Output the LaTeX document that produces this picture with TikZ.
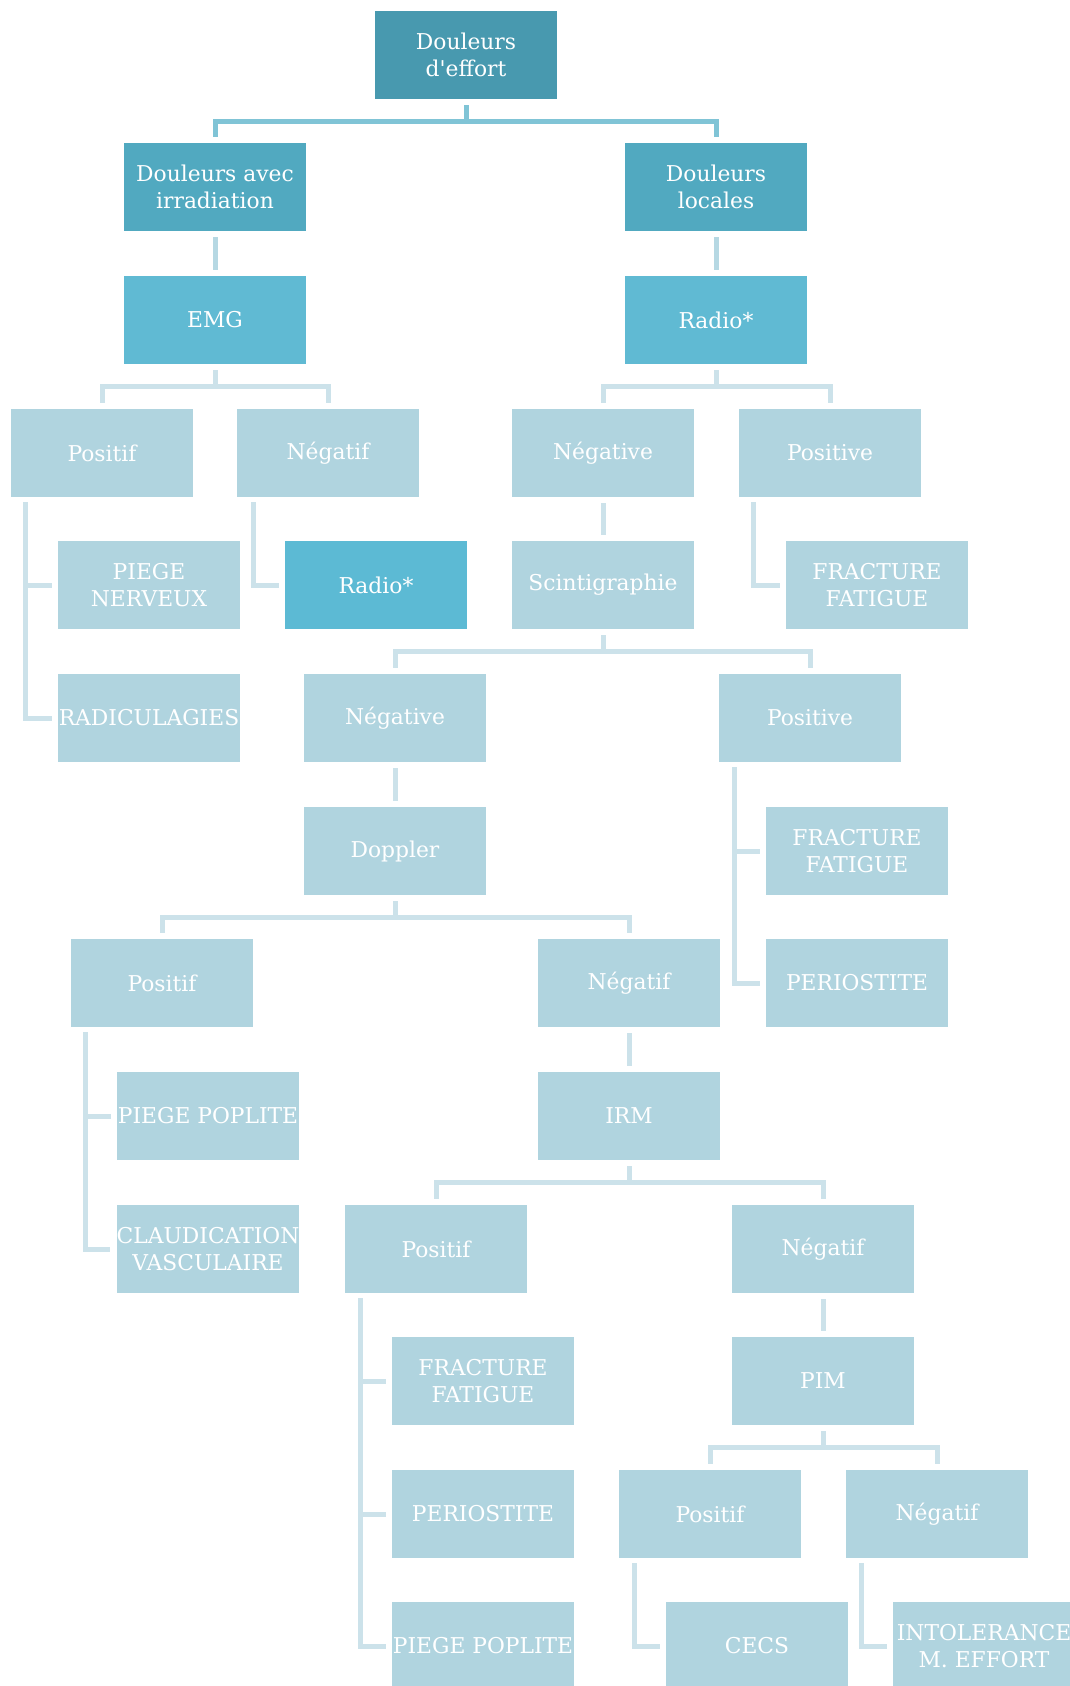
\documentclass[tikz,border=0pt]{standalone}
\usepackage{fontspec}
\setmainfont{DejaVu Serif}
\usetikzlibrary{calc}
\newcommand{\straightapos}{\XeTeXglyph\XeTeXcharglyph"0027\relax}
\definecolor{cRoot}{HTML}{4899AF}
\definecolor{cLone}{HTML}{51A9C0}
\definecolor{cLtwo}{HTML}{60BAD3}
\definecolor{cBlue}{HTML}{5CBAD4}
\definecolor{cLight}{HTML}{B0D4DF}
\definecolor{lnA}{HTML}{80C4D6}
\definecolor{lnB}{HTML}{B6D8E3}
\definecolor{lnC}{HTML}{CCE2EA}
\tikzset{
  box/.style={rectangle, minimum width=182pt, minimum height=88pt, inner sep=0pt,
    text=white, align=center, font=\fontsize{21.8}{27}\selectfont},
  boxroot/.style={box, fill=cRoot},
  boxone/.style={box, fill=cLone},
  boxtwo/.style={box, fill=cLtwo},
  boxblue/.style={box, fill=cBlue},
  boxlight/.style={box, fill=cLight},
  lineA/.style={draw=lnA, line width=5pt},
  lineB/.style={draw=lnB, line width=5pt},
  lineC/.style={draw=lnC, line width=5pt},
}
\begin{document}
\begin{tikzpicture}[x=1pt, y=-1pt]
\useasboundingbox (0,0) rectangle (1070,1686);
% rows: tops 11,143,276,409,541,674,807,939,1072,1205,1337,1470,1602 ; centre = top+44
\node[boxroot]  (root)   at (466,55)  {Douleurs\\d\straightapos effort};
\node[boxone]   (irr)    at (215,187) {Douleurs avec\\irradiation};
\node[boxone]   (loc)    at (716,187) {Douleurs\\locales};
\node[boxtwo]   (emg)    at (215,320) {EMG};
\node[boxtwo]   (radioA) at (716,320) {Radio*};
\node[boxlight] (posA)   at (102,453) {Positif};
\node[boxlight] (negA)   at (328,453) {Négatif};
\node[boxlight] (negvA)  at (603,453) {Négative};
\node[boxlight] (posvA)  at (830,453) {Positive};
\node[boxlight] (piegeN) at (149,585) {PIEGE\\NERVEUX};
\node[boxblue]  (radioB) at (376,585) {Radio*};
\node[boxlight] (scinti) at (603,585) {Scintigraphie};
\node[boxlight] (fracA)  at (877,585) {FRACTURE\\FATIGUE};
\node[boxlight] (radic)  at (149,718) {RADICULAGIES};
\node[boxlight] (negvB)  at (395,718) {Négative};
\node[boxlight] (posvB)  at (810,718) {Positive};
\node[boxlight] (doppler) at (395,851) {Doppler};
\node[boxlight] (fracB)  at (857,851) {FRACTURE\\FATIGUE};
\node[boxlight] (posD)   at (162,983) {Positif};
\node[boxlight] (negD)   at (629,983) {Négatif};
\node[boxlight] (perioA) at (857,983) {PERIOSTITE};
\node[boxlight] (piegePA) at (208,1116) {PIEGE POPLITE};
\node[boxlight] (irm)    at (629,1116) {IRM};
\node[boxlight] (claud)  at (208,1249) {CLAUDICATION\\VASCULAIRE};
\node[boxlight] (posI)   at (436,1249) {Positif};
\node[boxlight] (negI)   at (823,1249) {Négatif};
\node[boxlight] (fracC)  at (483,1381) {FRACTURE\\FATIGUE};
\node[boxlight] (pim)    at (823,1381) {PIM};
\node[boxlight] (perioB) at (483,1514) {PERIOSTITE};
\node[boxlight] (posP)   at (710,1514) {Positif};
\node[boxlight] (negP)   at (937,1514) {Négatif};
\node[boxlight] (piegePB) at (483,1646) {PIEGE POPLITE};
\node[boxlight] (cecs)   at (757,1646) {CECS};
\node[boxlight] (intol)  at (984,1646) {INTOLERANCE\\M. EFFORT};

% forks
\draw[lineA] ($(root.south)+(0,6)$) -- ($(root.south)+(0,22)$);
\draw[lineA] ($(irr.north)+(0,-6)$) |- ($(root.south)+(0,22)$) -| ($(loc.north)+(0,-6)$);
\draw[lineB] ($(irr.south)+(0,6)$) -- ($(emg.north)+(0,-6)$);
\draw[lineB] ($(loc.south)+(0,6)$) -- ($(radioA.north)+(0,-6)$);
\draw[lineC] ($(emg.south)+(0,6)$) -- ($(emg.south)+(0,22)$);
\draw[lineC] ($(posA.north)+(0,-6)$) |- ($(emg.south)+(0,22)$) -| ($(negA.north)+(0,-6)$);
\draw[lineC] ($(radioA.south)+(0,6)$) -- ($(radioA.south)+(0,22)$);
\draw[lineC] ($(negvA.north)+(0,-6)$) |- ($(radioA.south)+(0,22)$) -| ($(posvA.north)+(0,-6)$);
\draw[lineC] ($(negvA.south)+(0,6)$) -- ($(scinti.north)+(0,-6)$);
\draw[lineC] ($(scinti.south)+(0,6)$) -- ($(scinti.south)+(0,22)$);
\draw[lineC] ($(negvB.north)+(0,-6)$) |- ($(scinti.south)+(0,22)$) -| ($(posvB.north)+(0,-6)$);
\draw[lineC] ($(negvB.south)+(0,6)$) -- ($(doppler.north)+(0,-6)$);
\draw[lineC] ($(doppler.south)+(0,6)$) -- ($(doppler.south)+(0,22)$);
\draw[lineC] ($(posD.north)+(0,-6)$) |- ($(doppler.south)+(0,22)$) -| ($(negD.north)+(0,-6)$);
\draw[lineC] ($(negD.south)+(0,6)$) -- ($(irm.north)+(0,-6)$);
\draw[lineC] ($(irm.south)+(0,6)$) -- ($(irm.south)+(0,22)$);
\draw[lineC] ($(posI.north)+(0,-6)$) |- ($(irm.south)+(0,22)$) -| ($(negI.north)+(0,-6)$);
\draw[lineC] ($(negI.south)+(0,6)$) -- ($(pim.north)+(0,-6)$);
\draw[lineC] ($(pim.south)+(0,6)$) -- ($(pim.south)+(0,22)$);
\draw[lineC] ($(posP.north)+(0,-6)$) |- ($(pim.south)+(0,22)$) -| ($(negP.north)+(0,-6)$);

% elbows
\draw[lineC] ($(posA.south west)+(15,5)$) |- ($(radic.west)+(-6,0)$);
\draw[lineC] ($(posA.south west)+(15,5)$) |- ($(piegeN.west)+(-6,0)$);
\draw[lineC] ($(negA.south west)+(17,5)$) |- ($(radioB.west)+(-6,0)$);
\draw[lineC] ($(posvA.south west)+(15,5)$) |- ($(fracA.west)+(-6,0)$);
\draw[lineC] ($(posvB.south west)+(16,5)$) |- ($(perioA.west)+(-6,0)$);
\draw[lineC] ($(posvB.south west)+(16,5)$) |- ($(fracB.west)+(-6,0)$);
\draw[lineC] ($(posD.south west)+(15,5)$) |- ($(claud.west)+(-6,0)$);
\draw[lineC] ($(posD.south west)+(15,5)$) |- ($(piegePA.west)+(-6,0)$);
\draw[lineC] ($(posI.south west)+(16,5)$) |- ($(piegePB.west)+(-6,0)$);
\draw[lineC] ($(posI.south west)+(16,5)$) |- ($(perioB.west)+(-6,0)$);
\draw[lineC] ($(posI.south west)+(16,5)$) |- ($(fracC.west)+(-6,0)$);
\draw[lineC] ($(posP.south west)+(16,5)$) |- ($(cecs.west)+(-6,0)$);
\draw[lineC] ($(negP.south west)+(16,5)$) |- ($(intol.west)+(-6,0)$);
\end{tikzpicture}
\end{document}
